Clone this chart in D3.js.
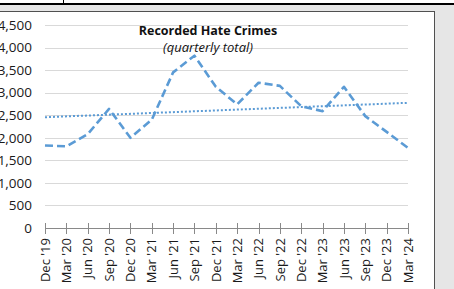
<!DOCTYPE html>
<html>
<head>
<meta charset="utf-8">
<script src="https://cdn.jsdelivr.net/npm/d3@7"></script>
<style>
  html, body { margin: 0; padding: 0; background: #e6e6e6; overflow: hidden; }
  svg { display: block; font-family: "Open Sans", sans-serif; }
</style>
</head>
<body>
<div id="chart"></div>
<script>
// quarters shown on the x axis
const quarters = ["Dec '19", "Mar '20", "Jun '20", "Sep '20", "Dec '20", "Mar '21",
  "Jun '21", "Sep '21", "Dec '21", "Mar '22", "Jun '22", "Sep '22", "Dec '22",
  "Mar '23", "Jun '23", "Sep '23", "Dec '23", "Mar '24"];

// recorded hate crimes, quarterly total
const crimes = [1830, 1810, 2080, 2640, 2000, 2400, 3450, 3820, 3130, 2740,
  3220, 3150, 2700, 2590, 3130, 2480, 2130, 1775];

const yTicks = [0, 500, 1000, 1500, 2000, 2500, 3000, 3500, 4000, 4500];

const title = "Recorded Hate Crimes";
const subtitle = "(quarterly total)";

const W = 454, H = 289;
const blue = "#5b9bd5";

var svg = d3.select("#chart").append("svg")
    .attr("width", W)
    .attr("height", H);

// frame around the chart
svg.append("rect").attr("x", 0).attr("y", 0).attr("width", W).attr("height", 3).attr("fill", "#fff");
svg.append("line").attr("x1", 63.5).attr("x2", 63.5).attr("y1", 0).attr("y2", 3).attr("stroke", "#000");
svg.append("rect").attr("x", 0).attr("y", 3).attr("width", W).attr("height", 2).attr("fill", "#000");
svg.append("rect")
    .attr("x", -5).attr("y", 11.5)
    .attr("width", 439.5).attr("height", H)
    .attr("fill", "#fff")
    .attr("stroke", "#505050");

// scales
var x = d3.scalePoint().domain(quarters).range([45, 408]);
var y = d3.scaleLinear().domain([0, 4500]).range([228, 25]);

// gridlines
svg.append("g").selectAll("line")
    .data(yTicks.filter(d => d > 0))
    .enter().append("line")
    .attr("x1", 45).attr("x2", 408)
    .attr("y1", d => Math.round(y(d)) + 0.5)
    .attr("y2", d => Math.round(y(d)) + 0.5)
    .attr("stroke", "#d9d9d9");

// y axis labels
svg.append("g")
    .attr("transform", "translate(45,0)")
    .call(d3.axisLeft(y).tickValues(yTicks).tickFormat(d3.format(",")).tickSize(0).tickPadding(13))
    .call(g => g.select(".domain").remove())
    .call(g => g.selectAll("text")
        .attr("fill", "#1a1a1a")
        .attr("font-size", "13.5px")
        .attr("font-family", "Open Sans, sans-serif"));

// x axis line and crossing ticks
var xa = svg.append("g");
xa.append("line")
    .attr("x1", x(quarters[0])).attr("x2", x(quarters[quarters.length - 1]))
    .attr("y1", 228.5).attr("y2", 228.5)
    .attr("stroke", "#898989");
xa.selectAll(".tick")
    .data(quarters)
    .enter().append("line")
    .attr("x1", d => Math.round(x(d)) + 0.5)
    .attr("x2", d => Math.round(x(d)) + 0.5)
    .attr("y1", 223).attr("y2", 234)
    .attr("stroke", "#898989");
xa.selectAll("text")
    .data(quarters)
    .enter().append("text")
    .attr("transform", d => `translate(${x(d)},238) rotate(-90)`)
    .attr("dy", "0.36em")
    .attr("text-anchor", "end")
    .attr("font-size", "13px")
    .attr("fill", "#1a1a1a")
    .text(d => d);

// linear trendline (least squares over the quarter index)
var n = crimes.length;
var meanI = (n - 1) / 2;
var meanV = d3.mean(crimes);
var sxy = d3.sum(crimes, (v, i) => (i - meanI) * (v - meanV));
var sxx = d3.sum(crimes, (v, i) => (i - meanI) * (i - meanI));
var slope = sxy / sxx;
var icpt = meanV - slope * meanI;

svg.append("line")
    .attr("x1", x(quarters[0])).attr("x2", x(quarters[n - 1]))
    .attr("y1", y(icpt)).attr("y2", y(icpt + slope * (n - 1)))
    .attr("stroke", blue)
    .attr("stroke-width", 2)
    .attr("stroke-dasharray", "2,2");

// main series
var line = d3.line()
    .x((d, i) => x(quarters[i]))
    .y(d => y(d));

svg.append("path")
    .datum(crimes)
    .attr("d", line)
    .attr("fill", "none")
    .attr("stroke", blue)
    .attr("stroke-width", 2.6)
    .attr("stroke-dasharray", "8,4")
    .attr("stroke-linejoin", "round");

// title
svg.append("text")
    .attr("x", 208).attr("y", 35)
    .attr("text-anchor", "middle")
    .attr("font-size", "12.5px")
    .attr("font-weight", "bold")
    .attr("fill", "#111")
    .text(title);
svg.append("text")
    .attr("x", 208).attr("y", 52)
    .attr("text-anchor", "middle")
    .attr("font-size", "13px")
    .attr("font-style", "italic")
    .attr("fill", "#111")
    .text(subtitle);
</script>
</body>
</html>
